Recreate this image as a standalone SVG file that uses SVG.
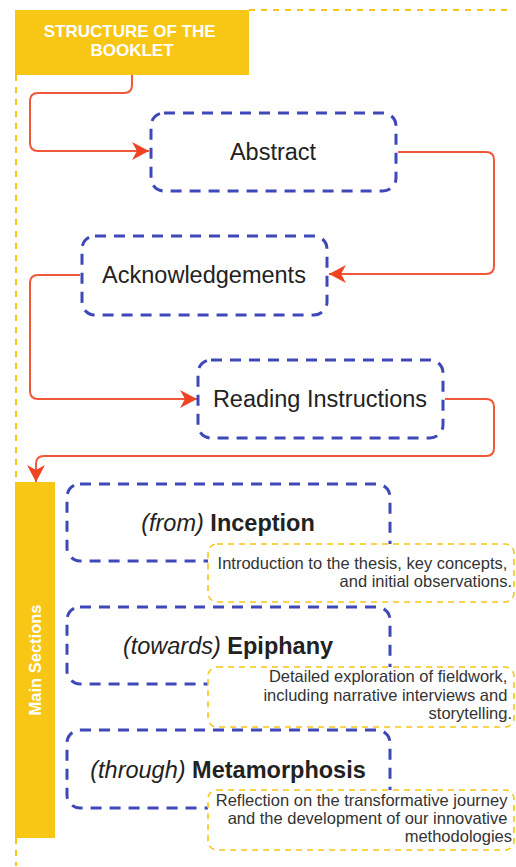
<svg xmlns="http://www.w3.org/2000/svg" width="516" height="867" viewBox="0 0 516 867">
  <style>
    .frame { fill: none; stroke: #f9c515; stroke-width: 2; stroke-dasharray: 6 6; }
    .banner { fill: #f8c614; }
    .banner-text { font-family: "Liberation Sans", Arial, sans-serif; font-weight: bold; fill: #ffffff; }
    .step { fill: #ffffff; stroke: #3f48b8; stroke-width: 3; stroke-dasharray: 11 8; }
    .step-text { font-family: "Liberation Sans", Arial, sans-serif; font-size: 23.5px; fill: #222222; text-anchor: middle; }
    .note { fill: #ffffff; stroke: #f9c515; stroke-width: 1.6; stroke-dasharray: 6 5; }
    .note-text { font-family: "Liberation Sans", Arial, sans-serif; font-size: 16.5px; fill: #333333; text-anchor: end; }
    .flow { fill: none; stroke: #f0583a; stroke-width: 2; marker-end: url(#head); }
  </style>
  <defs>
    <marker id="head" markerUnits="userSpaceOnUse" markerWidth="19" markerHeight="20" refX="17" refY="9" orient="auto">
      <path d="M0,0 L17,9 L0,18 L5,9 Z" fill="#ee4424"/>
    </marker>
  </defs>

  <rect width="516" height="867" fill="#ffffff"/>

  <!-- outer dashed frame -->
  <g id="frame">
    <path class="frame" d="M249,10 H513"/>
    <path class="frame" d="M16,75 V482"/>
    <path class="frame" d="M16,838 V866"/>
  </g>

  <!-- connectors -->
  <g id="connectors">
    <path class="flow" d="M132,75 V85 Q132,93 124,93 H38 Q30,93 30,101 V143 Q30,151 38,151 H149"/>
    <path class="flow" d="M398,152 H486 Q494,152 494,160 V266 Q494,274 486,274 H329"/>
    <path class="flow" d="M80,275 H38 Q30,275 30,283 V391 Q30,399 38,399 H197"/>
    <path class="flow" d="M445,399 H486 Q494,399 494,407 V448 Q494,456 486,456 H44 Q36,456 36,464 V482"/>
  </g>

  <g id="title">
    <rect class="banner" x="15" y="10" width="234" height="65"/>
    <text class="banner-text" font-size="17" text-anchor="middle">
      <tspan x="132" y="37">STRUCTURE OF THE</tspan>
      <tspan x="132" y="56">BOOKLET</tspan>
    </text>
  </g>

  <g id="abstract">
    <rect class="step" x="151" y="113" width="245" height="78" rx="13"/>
    <text class="step-text" x="273" y="160">Abstract</text>
  </g>

  <g id="acknowledgements">
    <rect class="step" x="82" y="236" width="245" height="79" rx="13"/>
    <text class="step-text" x="204" y="283">Acknowledgements</text>
  </g>

  <g id="reading-instructions">
    <rect class="step" x="198" y="360" width="245" height="78" rx="13"/>
    <text class="step-text" x="320" y="407">Reading Instructions</text>
  </g>

  <g id="main-sections">
    <rect class="banner" x="15" y="482" width="40" height="356"/>
    <text class="banner-text" font-size="16.5" text-anchor="middle" transform="translate(41,660) rotate(-90)" x="0" y="0">Main Sections</text>
  </g>

  <g id="inception">
    <rect class="step" x="67" y="484" width="323" height="77" rx="13"/>
    <text class="step-text" x="228" y="531"><tspan font-style="italic">(from)</tspan> <tspan font-weight="bold">Inception</tspan></text>
  </g>
  <g id="inception-note">
    <rect class="note" x="208" y="544" width="306" height="58" rx="9"/>
    <text class="note-text">
      <tspan x="512" y="569">Introduction to the thesis, key concepts,</tspan>
      <tspan x="512" y="587">and initial observations.</tspan>
    </text>
  </g>

  <g id="epiphany">
    <rect class="step" x="67" y="607" width="323" height="77" rx="13"/>
    <text class="step-text" x="228" y="654"><tspan font-style="italic">(towards)</tspan> <tspan font-weight="bold">Epiphany</tspan></text>
  </g>
  <g id="epiphany-note">
    <rect class="note" x="208" y="667" width="306" height="60" rx="9"/>
    <text class="note-text">
      <tspan x="512" y="682">Detailed exploration of fieldwork,</tspan>
      <tspan x="512" y="701">including narrative interviews and</tspan>
      <tspan x="512" y="719">storytelling.</tspan>
    </text>
  </g>

  <g id="metamorphosis">
    <rect class="step" x="67" y="730" width="323" height="78" rx="13"/>
    <text class="step-text" x="228" y="778"><tspan font-style="italic">(through)</tspan> <tspan font-weight="bold">Metamorphosis</tspan></text>
  </g>
  <g id="metamorphosis-note">
    <rect class="note" x="208" y="790" width="306" height="60" rx="9"/>
    <text class="note-text">
      <tspan x="512" y="806">Reflection on the transformative journey</tspan>
      <tspan x="512" y="824">and the development of our innovative</tspan>
      <tspan x="512" y="842">methodologies</tspan>
    </text>
  </g>
</svg>
